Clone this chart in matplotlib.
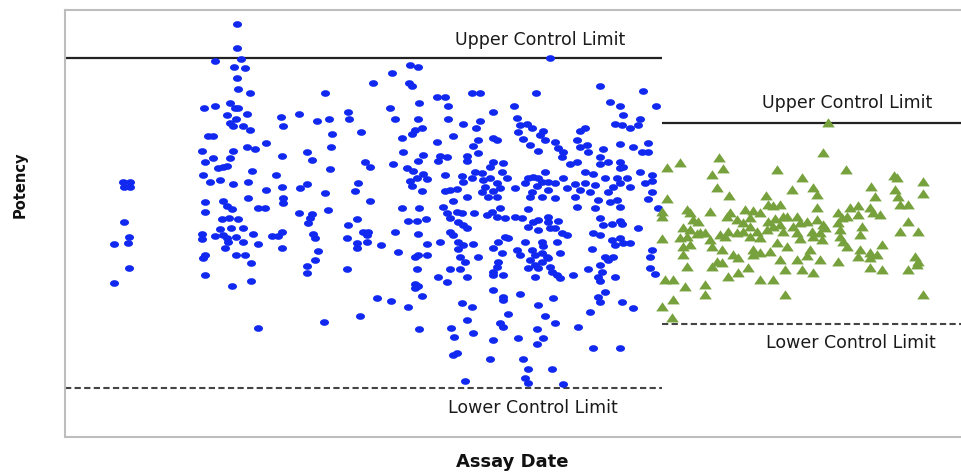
import numpy as np
import matplotlib
matplotlib.use("Agg")
import matplotlib.pyplot as plt
from matplotlib.path import Path

# ---------------- data (day index, potency in arbitrary units) ----------------
blue_day = [
    123, 130, 124, 130, 124, 114, 129, 128, 129, 114,
    237, 237, 215, 241, 234, 245, 237, 238, 250, 325,
    204, 215, 230, 235, 238, 227, 247, 236, 230, 233,
    243, 250, 281, 283, 299, 317, 329, 348, 349, 332,
    208, 213, 266, 247, 255, 233, 202, 331, 307, 312,
    282, 205, 213, 230, 218, 223, 227, 252, 330, 203,
    210, 220, 233, 248, 276, 266, 282, 300, 307, 325,
    205, 223, 248, 283, 283,
    205, 227, 232, 258, 265, 299, 312, 310, 308, 328,
    222, 229, 238, 220, 231, 243, 202, 202, 215, 223,
    227, 228, 236, 243, 253, 258, 272, 278, 282, 282,
    225, 313, 315, 318, 315, 307, 307, 203, 205, 236,
    245, 251, 251, 205, 232, 258, 324, 348, 347, 347,
    410, 418, 392, 373, 409, 412, 437, 445, 472, 480,
    419, 448, 390, 493, 395, 418, 448, 480, 463, 476,
    361, 415, 422, 412, 402, 453, 493, 497, 437, 478,
    473, 403, 423, 418, 440, 447, 438, 467, 478, 467,
    493, 503, 365, 370, 393, 407, 413, 423, 445, 462,
    475, 482, 490, 502, 410, 417, 427, 463, 472, 483,
    490, 497, 507, 358, 355, 412, 422, 445, 450, 457,
    467, 482, 485, 493, 500, 370, 488, 497,
    402, 419, 443, 447, 450, 457, 462, 474, 487, 492,
    497, 500, 505, 453, 408, 417, 426, 458, 463, 467,
    357, 363, 368, 367, 395, 418, 450, 453, 505, 508,
    357, 357, 367, 381, 398, 427, 440, 458, 463, 473,
    458, 493, 498, 415, 418, 427, 460, 465, 478, 502,
    498, 497, 493, 493, 503, 417, 450, 460, 438, 447,
    467, 415, 418, 415, 422, 377, 391, 408, 493, 503,
    503, 462, 472, 360, 467, 508, 500, 503, 419, 451,
    473, 454, 493, 457, 453, 490, 465,
    550, 600, 536, 643, 514, 610, 620, 656, 517, 623,
    520, 527, 532, 518, 615, 622, 640, 638, 630, 585,
    580, 543, 540, 523, 545, 555, 530, 577, 587, 580,
    558, 538, 563, 588, 603, 620, 633, 642, 648, 648,
    562, 600, 577, 570, 608, 620, 620, 623, 600, 640,
    585, 593, 545, 533, 528, 538, 542, 548, 563, 605,
    617, 627, 652, 525, 537, 555, 575, 585, 595, 613,
    620, 630, 645, 652, 515, 532, 548, 567, 580, 590,
    608, 652, 530, 542, 555, 575, 598, 617, 648,
    610, 620, 658, 528, 577, 595,
    515, 522, 533, 538, 548, 548, 558, 600, 603, 612,
    620, 622, 638, 528, 538, 550, 555, 562, 567, 593,
    600, 612, 620, 623, 630, 615, 525, 542, 543, 557,
    517, 520, 532, 535, 542, 547, 560, 592, 652, 650,
    530, 542, 548, 535, 538, 550, 605, 608, 613, 528,
    552, 557, 560, 535, 573, 588, 600, 602, 598, 615,
    600, 650, 655, 520, 553, 605, 598, 600, 622, 633,
    538, 545, 590, 555, 578, 537, 518, 543, 537, 593,
    620, 523, 528, 552, 525, 528, 563,
]
blue_potency = [
    255, 255, 250, 250, 215, 193, 200, 194, 169, 154,
    413, 389, 376, 378, 370, 369, 359, 348, 344, 344,
    329, 331, 334, 329, 329, 322, 323, 318, 314, 311,
    311, 307, 320, 311, 323, 316, 318, 325, 318, 303,
    301, 301, 294, 290, 288, 286, 286, 290, 285, 277,
    281, 275, 279, 279, 269, 270, 271, 266, 268, 262,
    255, 257, 253, 255, 262, 247, 250, 249, 253, 244,
    235, 236, 239, 239, 234,
    225, 231, 228, 229, 229, 224, 223, 219, 214, 227,
    218, 219, 218, 208, 209, 209, 203, 198, 201, 202,
    199, 195, 200, 195, 203, 193, 201, 201, 205, 189,
    189, 203, 199, 186, 177, 171, 164, 179, 182, 182,
    182, 174, 156, 162, 151, 109, 115, 212, 199, 168,
    372, 370, 364, 354, 354, 351, 340, 340, 344, 344,
    334, 331, 329, 325, 318, 318, 318, 316, 313, 309,
    305, 307, 309, 303, 299, 301, 299, 297, 295, 297,
    291, 285, 282, 276, 281, 280, 276, 281, 284, 276,
    275, 274, 275, 270, 273, 269, 266, 263, 262, 261,
    265, 264, 270, 265, 256, 259, 258, 255, 259, 257,
    259, 254, 259, 254, 246, 251, 246, 246, 247, 248,
    240, 245, 250, 246, 249, 236, 240, 240,
    229, 229, 230, 224, 219, 225, 224, 224, 222, 225,
    220, 229, 219, 236, 216, 216, 218, 215, 212, 209,
    218, 205, 205, 202, 205, 203, 205, 202, 200, 199,
    194, 189, 195, 192, 185, 193, 195, 195, 192, 193,
    188, 189, 195, 180, 182, 182, 180, 175, 180, 184,
    175, 170, 165, 162, 162, 168, 168, 168, 160, 155,
    160, 153, 151, 149, 141, 139, 136, 130, 147, 140,
    137, 134, 130, 121, 117, 123, 114, 110, 108, 109,
    104, 100, 97, 84, 82, 78, 56,
    379, 351, 344, 346, 331, 335, 331, 331, 319, 322,
    312, 313, 309, 305, 313, 312, 318, 312, 309, 309,
    306, 306, 302, 298, 297, 295, 292, 297, 292, 290,
    289, 286, 285, 285, 288, 293, 290, 285, 285, 294,
    280, 280, 275, 273, 275, 275, 269, 270, 273, 265,
    265, 263, 265, 260, 259, 259, 255, 255, 259, 259,
    259, 259, 262, 254, 251, 254, 253, 254, 252, 250,
    254, 250, 254, 256, 249, 245, 247, 249, 247, 245,
    245, 245, 240, 240, 239, 240, 237, 237, 238,
    235, 230, 229, 228, 230, 229,
    220, 219, 215, 217, 220, 215, 216, 219, 212, 213,
    216, 213, 209, 210, 207, 209, 209, 204, 202, 204,
    202, 197, 199, 194, 194, 192, 195, 195, 191, 195,
    187, 182, 187, 182, 184, 180, 184, 188, 187, 180,
    177, 175, 179, 172, 169, 170, 180, 177, 180, 169,
    165, 162, 159, 160, 162, 168, 172, 165, 160, 160,
    156, 169, 163, 143, 139, 145, 140, 135, 135, 129,
    132, 121, 125, 114, 110, 108, 99, 99, 93, 89,
    89, 78, 68, 68, 59, 54, 53,
]

green_day = [
    828, 823, 667, 680, 719, 723, 712, 777, 802, 846,
    894, 897, 923, 923, 717, 729, 792, 813, 817, 871,
    875, 895, 898, 667, 766, 768, 773, 780, 817, 900,
    908, 662, 687, 690, 710, 730, 745, 753, 760, 783,
    797, 807, 838, 850, 858, 870, 873, 880, 662, 693,
    698, 727, 737, 743, 750, 768, 775, 780, 787, 793,
    800, 817, 823, 838, 842, 847, 858, 908, 683, 690,
    700, 705, 720, 728, 737, 743, 750, 757, 767, 773,
    783, 797, 812, 820, 825, 840, 862, 662, 680, 687,
    697, 710, 725, 750, 760, 777, 800, 813, 822, 840,
    860, 900, 918, 843, 882, 683, 690, 712, 722, 753,
    760, 770, 787, 810, 847, 860, 870, 877, 683, 733,
    738, 753, 780, 797, 807, 820, 838, 858, 870, 915,
    918, 917, 687, 712, 717, 722, 748, 785, 802, 813,
    870, 882, 908, 665, 673, 728, 738, 760, 773, 685,
    705, 705, 785, 923, 673, 662, 672,
]
green_potency = [
    314, 284, 269, 274, 279, 268, 262, 267, 259, 267,
    261, 259, 255, 243, 249, 241, 247, 249, 242, 250,
    240, 247, 240, 238, 241, 232, 231, 232, 229, 232,
    232, 225, 227, 224, 225, 224, 227, 226, 224, 220,
    220, 215, 224, 229, 231, 229, 224, 222, 220, 217,
    215, 220, 217, 214, 219, 215, 218, 212, 220, 210,
    214, 217, 212, 214, 219, 220, 222, 215, 209, 207,
    204, 204, 202, 205, 204, 205, 210, 205, 207, 210,
    205, 204, 205, 204, 209, 207, 210, 198, 199, 200,
    203, 197, 200, 200, 199, 194, 198, 200, 197, 200,
    202, 205, 205, 195, 192, 190, 192, 190, 187, 187,
    184, 185, 190, 187, 190, 187, 184, 182, 182, 182,
    179, 182, 177, 177, 181, 177, 175, 180, 179, 180,
    175, 172, 170, 170, 175, 174, 169, 167, 167, 164,
    169, 167, 167, 157, 157, 160, 164, 157, 157, 150,
    152, 142, 142, 142, 137, 130, 119,
]

# control limits: (level, start day, end day)
ucl_old, lcl_old, old_span = 379, 49, (65, 662)
ucl_new, lcl_new, new_span = 314, 113, (662, 962)

# ---------------- markers (images in the source are slightly stretched) ----------------
t = np.linspace(0, 2 * np.pi, 41)
ellipse = Path(np.column_stack([1.35 * np.cos(t), np.sin(t)]), closed=True)
tri = Path([(-1.2, -0.75), (1.2, -0.75), (0.0, 1.0), (-1.2, -0.75)], closed=True)

fig = plt.figure(figsize=(9.62, 4.73), dpi=100)
ax = fig.add_axes([65 / 962, 36 / 473, 897 / 962, 427 / 473])

ax.scatter(blue_day, blue_potency, marker=ellipse, s=42, color="#1028f0",
           linewidths=0, zorder=3)
ax.scatter(green_day, green_potency, marker=tri, s=82, color="#77a13d",
           linewidths=0, zorder=3)

ax.hlines(ucl_old, *old_span, color="#222222", lw=1.6, zorder=2)
ax.hlines(lcl_old, *old_span, color="#444444", lw=1.5, linestyles=(0, (3, 1.6)), zorder=2)
ax.hlines(ucl_new, *new_span, color="#222222", lw=1.6, zorder=2)
ax.hlines(lcl_new, *new_span, color="#444444", lw=1.5, linestyles=(0, (3, 1.6)), zorder=2)

lab = dict(ha="center", va="center", fontsize=12.5, color="#1a1a1a", family="DejaVu Sans")
ax.text(540, 397, "Upper Control Limit", **lab)
ax.text(533, 29, "Lower Control Limit", **lab)
ax.text(847, 334, "Upper Control Limit", **lab)
ax.text(851, 94, "Lower Control Limit", **lab)

ax.set_xlim(65, 962)
ax.set_ylim(0, 427)
ax.set_xticks([])
ax.set_yticks([])
for side in ["left", "top", "bottom"]:
    ax.spines[side].set_color("#bdbdbd")
    ax.spines[side].set_linewidth(1.5)
ax.spines["right"].set_visible(False)

fig.text(20 / 962, 1 - 185 / 473, "Potency", rotation=90, ha="center", va="center",
         fontsize=10.5, fontweight="bold", color="#111111")
fig.text(512 / 962, 1 - 462 / 473, "Assay Date", ha="center", va="center",
         fontsize=13, fontweight="bold", color="#111111")

fig.savefig("out.png", dpi=100)
